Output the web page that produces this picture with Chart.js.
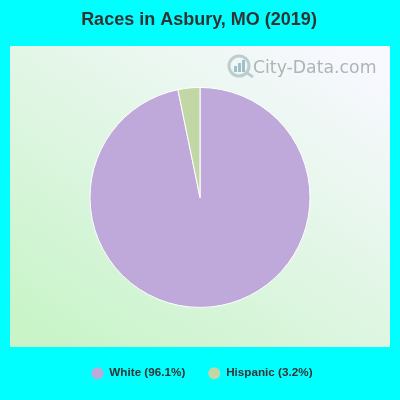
<!DOCTYPE html>
<html>
<head>
<meta charset="utf-8">
<title>Races in Asbury, MO (2019)</title>
<script src="https://cdn.jsdelivr.net/npm/chart.js@4"></script>
<style>
    html, body { margin: 0; padding: 0; background: #00ffff; }
    canvas { display: block; }
</style>
</head>
<body>
<canvas id="raceChart" width="400" height="400"></canvas>
<script>
const CHART_TITLE = 'Races in Asbury, MO (2019)';
const WATERMARK = 'City-Data.com';
const categories = ['White', 'Hispanic'];
const percents = [96.1, 3.2];
const sliceColors = ['#bfa9da', '#c3d6a6'];

// plot panel behind the pie
const PANEL = { left: 10, top: 46, right: 390, bottom: 347 };

const backgroundPlugin = {
    id: 'panelBackground',
    afterLayout(chart) {
        // reference row and title are not quite centred on the canvas
        chart.legend.left += 2;
        chart.legend.right += 2;
        chart.titleBlock.left -= 1;
        chart.titleBlock.right -= 1;
    },
    beforeDraw(chart) {
        const ctx = chart.ctx;
        ctx.save();
        ctx.fillStyle = '#00ffff';
        ctx.fillRect(0, 0, chart.width, chart.height);
        // steeper than the panel diagonal, top left is lighter than bottom right
        const grad = ctx.createLinearGradient(90, 367, 310, 27);
        grad.addColorStop(0, '#c8f4c8');
        grad.addColorStop(1, '#f8f8ff');
        ctx.fillStyle = grad;
        ctx.fillRect(PANEL.left, PANEL.top, PANEL.right - PANEL.left, PANEL.bottom - PANEL.top);

        // watermark: magnifier logo and site name
        ctx.strokeStyle = '#bccdd0';
        ctx.lineWidth = 3;
        ctx.beginPath();
        ctx.arc(239, 66, 10, 0, Math.PI * 2);
        ctx.stroke();
        ctx.beginPath();
        ctx.moveTo(247, 73);
        ctx.lineTo(253, 77);
        ctx.stroke();
        ctx.fillStyle = '#9fc0c8';
        ctx.fillRect(234, 66, 3, 6);
        ctx.fillRect(238, 63, 3, 9);
        ctx.fillRect(242, 60, 3, 12);
        ctx.fillStyle = '#adb5b8';
        ctx.font = '17.3px "DejaVu Sans"';
        ctx.textBaseline = 'alphabetic';
        ctx.textAlign = 'left';
        ctx.fillText(WATERMARK, 253, 73);
        ctx.restore();
    }
};

new Chart(document.getElementById('raceChart').getContext('2d'), {
    type: 'pie',
    data: {
        labels: categories.map((c, i) => `${c} (${percents[i]}%)`),
        datasets: [{
            data: percents,
            backgroundColor: sliceColors,
            borderColor: '#ffffff',
            borderWidth: 1,
            radius: 110
        }]
    },
    options: {
        responsive: false,
        animation: false,
        layout: { padding: { top: 0, bottom: 11, left: 0, right: 0 } },
        plugins: {
            title: {
                display: true,
                text: CHART_TITLE,
                color: '#333333',
                font: { family: '"Liberation Sans"', size: 18, weight: 'bold' },
                padding: { top: 9, bottom: 20 }
            },
            legend: {
                position: 'bottom',
                labels: {
                    usePointStyle: true,
                    pointStyle: 'circle',
                    pointStyleWidth: 12,
                    boxHeight: 8.5, // radius comes out as height * sqrt2 / 2, so 6px
                    padding: 23,
                    color: '#333333',
                    font: { family: '"Liberation Sans"', size: 11.7, weight: 'bold' },
                    // markers have no white outline, only the slices do
                    generateLabels(chart) {
                        return Chart.overrides.pie.plugins.legend.labels.generateLabels(chart)
                            .map(item => ({ ...item, lineWidth: 0 }));
                    }
                }
            },
            tooltip: { enabled: false }
        }
    },
    plugins: [backgroundPlugin]
});
</script>
</body>
</html>
